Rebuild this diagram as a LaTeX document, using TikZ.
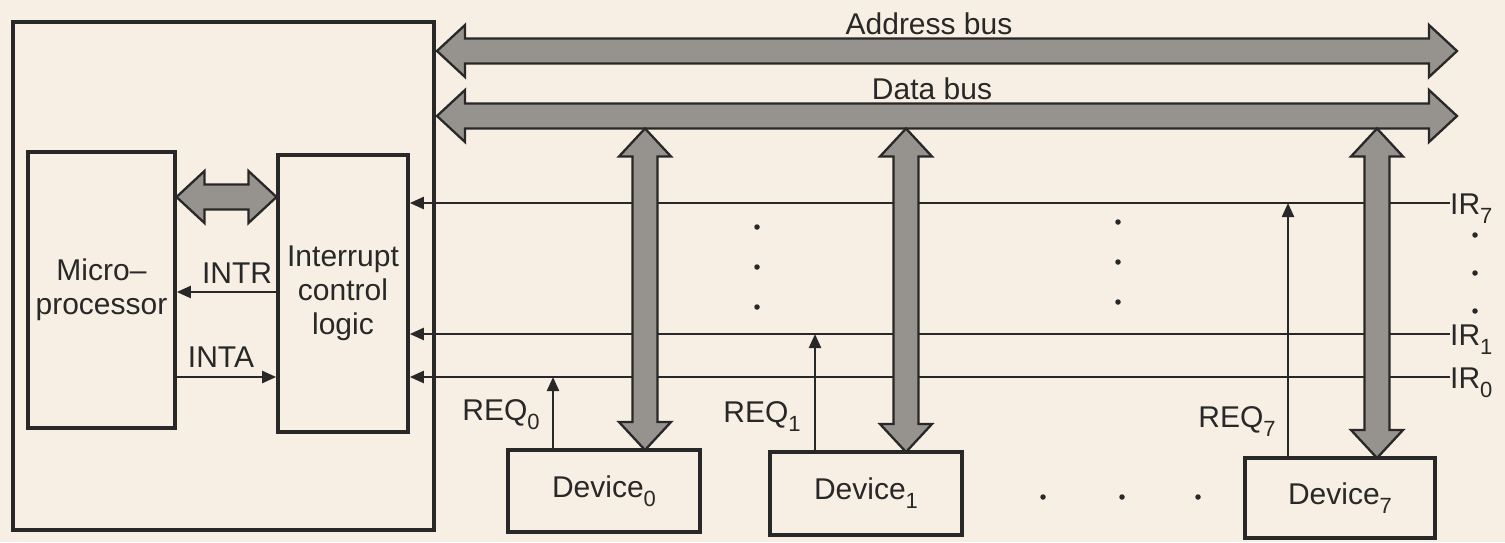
\documentclass[tikz,border=0pt]{standalone}
\usepackage{fontspec}
\setmainfont{Liberation Sans}
\usetikzlibrary{arrows.meta,calc}
\definecolor{paper}{RGB}{247,239,228}
\definecolor{ink}{RGB}{40,40,40}
\definecolor{busfill}{RGB}{150,146,142}
\newcommand\lowidx[1]{\raisebox{-9pt}{\fontsize{22}{22}\selectfont #1}}
% horizontal fat double arrow between two tip coordinates
\newcommand\hbusdraw[2]{%
  \draw[bus] (#1) -- ($(#1)+(28,-26)$) -- ($(#1)+(28,-12.5)$) -- ($(#2)+(-28,-12.5)$)
    -- ($(#2)+(-28,-26)$) -- (#2) -- ($(#2)+(-28,26)$) -- ($(#2)+(-28,12.5)$)
    -- ($(#1)+(28,12.5)$) -- ($(#1)+(28,26)$) -- cycle;}
% vertical fat double arrow between top tip and bottom tip
\newcommand\vbusdraw[2]{%
  \draw[bus] (#1) -- ($(#1)+(26,28)$) -- ($(#1)+(12.5,28)$) -- ($(#2)+(12.5,-28)$)
    -- ($(#2)+(26,-28)$) -- (#2) -- ($(#2)+(-26,-28)$) -- ($(#2)+(-12.5,-28)$)
    -- ($(#1)+(-12.5,28)$) -- ($(#1)+(-26,28)$) -- cycle;}
\begin{document}
\begin{tikzpicture}[x=1pt,y=-1pt,
  every node/.style={font=\fontsize{30}{34}\selectfont, text=ink, inner sep=0pt},
  box/.style={draw=ink, line width=3.6pt, rectangle},
  sig/.style={draw=ink, line width=2.3pt},
  sigarrow/.style={sig, -{Triangle[length=14pt,width=12pt]}},
  bus/.style={draw=ink, line width=2.3pt, fill=busfill, line join=miter},
  dotmark/.style={circle, fill=ink, minimum size=5.5pt, inner sep=0pt}]

\fill[paper] (0,0) rectangle (1505,542);
\useasboundingbox (0,0) rectangle (1505,542);

% boxes
\node[box, minimum width=421pt, minimum height=508pt] (sys) at (223.5,276) {};
\node[box, minimum width=147pt, minimum height=276pt, align=center] (mp) at (101.5,290) {Micro–\\processor};
\node[box, minimum width=130pt, minimum height=277pt, align=center] (icl) at (343,293.5) {Interrupt\\control\\logic};
\node[box, minimum width=192pt, minimum height=82pt] (dev0) at (604,491) {Device\lowidx{0}};
\node[box, minimum width=192pt, minimum height=83pt] (dev1) at (866,493.5) {Device\lowidx{1}};
\node[box, minimum width=190pt, minimum height=80pt] (dev7) at (1340,498) {Device\lowidx{7}};

% IR lines
\coordinate (e7) at (1450,203);
\coordinate (e1) at (1450,334);
\coordinate (e0) at (1450,377);
\node[anchor=base west, yshift=-11pt] (ir7) at (e7) {IR\lowidx{7}};
\node[anchor=base west, yshift=-11pt] (ir1) at (e1) {IR\lowidx{1}};
\node[anchor=base west, yshift=-11pt] (ir0) at (e0) {IR\lowidx{0}};
\draw[sigarrow] (e7) -- (icl.east |- e7);
\draw[sigarrow] (e1) -- (icl.east |- e1);
\draw[sigarrow] (e0) -- (icl.east |- e0);

% REQ arrows
\coordinate (q0) at (553,450);
\coordinate (q1) at (815,452);
\coordinate (q7) at (1288,458);
\draw[sigarrow] (q0) -- (q0 |- e0);
\draw[sigarrow] (q1) -- (q1 |- e1);
\draw[sigarrow] (q7) -- (q7 |- e7);
\node (req0) at (501,415) {REQ\lowidx{0}};
\node (req1) at (762,417) {REQ\lowidx{1}};
\node (req7) at (1237,422) {REQ\lowidx{7}};

% buses
\coordinate (abL) at (437,51);
\coordinate (abR) at (1457,51);
\coordinate (dbL) at (437,116);
\coordinate (dbR) at (1457,116);
\hbusdraw{abL}{abR}
\hbusdraw{dbL}{dbR}
\node (alab) at (929,24) {Address bus};
\node (dlab) at (932,89) {Data bus};

\coordinate (v0t) at (645,128.5);
\coordinate (v0b) at (645,450);
\coordinate (v1t) at (906,128.5);
\coordinate (v1b) at (906,452);
\coordinate (v7t) at (1377,128.5);
\coordinate (v7b) at (1377,458);
\vbusdraw{v0t}{v0b}
\vbusdraw{v1t}{v1b}
\vbusdraw{v7t}{v7b}

% local bus between microprocessor and interrupt logic
\coordinate (lbL) at (176.5,197);
\coordinate (lbR) at (276.5,197);
\hbusdraw{lbL}{lbR}

% INTR / INTA
\coordinate (intrS) at (icl.west |- 0,292);
\coordinate (intaS) at (mp.east |- 0,377);
\draw[sigarrow] (intrS) -- (mp.east |- intrS);
\draw[sigarrow] (intaS) -- (icl.west |- intaS);
\node (intr) at (237,273) {INTR};
\node (inta) at (221,357) {INTA};

% dots
\foreach \i/\x/\y in {a1/757/227, a2/757/267, a3/757/307,
                      b1/1118/222, b2/1118/262, b3/1118/302,
                      c1/1475/235, c2/1475/273, c3/1475/311,
                      d1/1043/497, d2/1122/497, d3/1198/497}
  \node[dotmark] (dot\i) at (\x,\y) {};
\end{tikzpicture}
\end{document}
